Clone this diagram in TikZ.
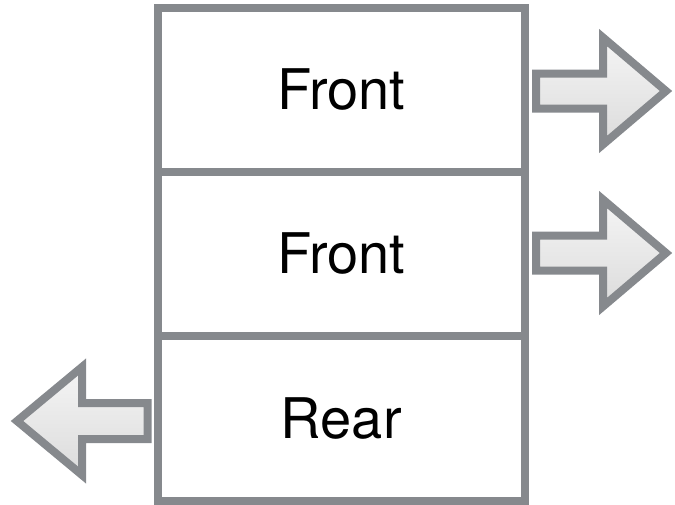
\documentclass[tikz,border=0pt]{standalone}
\usepackage{fontspec}
\setmainfont{TeX Gyre Heros}
\usetikzlibrary{shadows}
\definecolor{edgegray}{HTML}{86898D}
\tikzset{
  cell/.style={draw=edgegray, line width=8pt, fill=white, minimum width=366.5pt,
    minimum height=164.33pt, inner sep=0pt, outer sep=0pt,
    font=\fontsize{56}{60}\selectfont},
  bigarrow/.style={draw=edgegray, line width=8pt, line join=miter,
    top color=gray!8, bottom color=gray!28,
    drop shadow={shadow xshift=1.5pt, shadow yshift=-2pt, opacity=0.25}}
}
\begin{document}
\begin{tikzpicture}[x=1pt,y=-1pt]
\useasboundingbox (0,0) rectangle (675,504);
\node[cell] (front1) at (341.25,89.67) {Front};
\node[cell] (front2) at (341.25,254) {Front};
\node[cell] (rear) at (341.25,418.33) {Rear};
% right arrows
\foreach \cy in {91,253}{
  \path[bigarrow] (536,\cy-17.5) -- (603,\cy-17.5) -- (603,\cy-53.5) -- (666,\cy)
    -- (603,\cy+53.5) -- (603,\cy+17.5) -- (536,\cy+17.5) -- cycle;
}
% left arrow
\path[bigarrow] (147.5,403) -- (82,403) -- (82,367) -- (17,421)
  -- (82,475) -- (82,439) -- (147.5,439) -- cycle;
\end{tikzpicture}
\end{document}
